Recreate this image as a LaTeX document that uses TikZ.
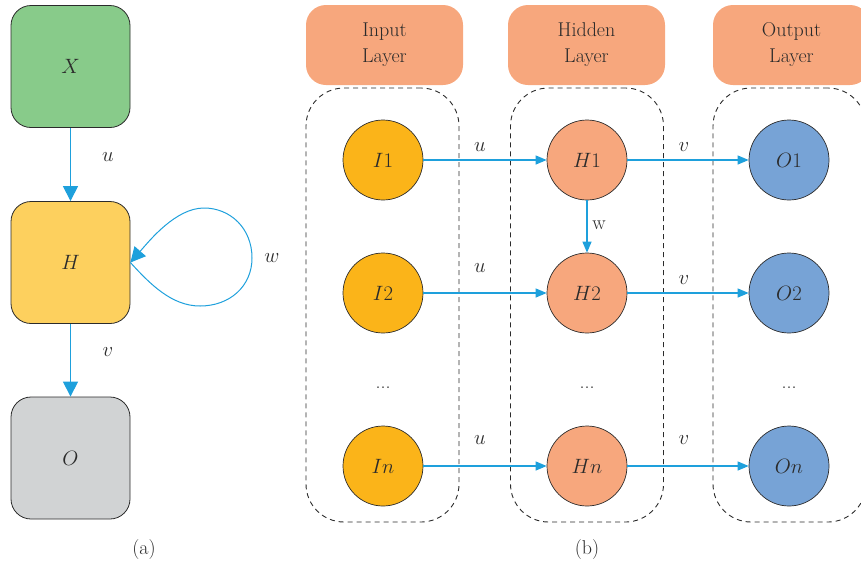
\documentclass[tikz,border=0pt]{standalone}
\usetikzlibrary{arrows.meta}
\definecolor{boxgreen}{HTML}{88CB8A}
\definecolor{boxyellow}{HTML}{FDD05E}
\definecolor{boxgray}{HTML}{D1D3D4}
\definecolor{salmon}{HTML}{F7A77D}
\definecolor{amber}{HTML}{FBB419}
\definecolor{skyblue}{HTML}{77A3D6}
\definecolor{linkblue}{HTML}{1EA0DC}
\definecolor{edge}{HTML}{2B2B2B}
\begin{document}
\begin{tikzpicture}[x=1pt,y=-1pt,
  txt/.style={font=\fontsize{20}{26}\selectfont, text=edge},
  block/.style={draw=edge, line width=0.8pt, rounded corners=20pt,
    minimum width=119pt, minimum height=122pt, inner sep=0pt, txt},
  neuron/.style={circle, draw=edge, line width=0.7pt, minimum size=80pt,
    inner sep=0pt, txt},
  header/.style={fill=salmon, rounded corners=20pt, minimum width=157pt,
    minimum height=80pt, inner sep=0pt, align=center, txt},
  group/.style={draw=edge, dash pattern=on 5pt off 4pt, line width=0.9pt,
    rounded corners=38pt, minimum width=153pt, minimum height=434pt, inner sep=0pt},
  biglink/.style={draw=linkblue, line width=1.1pt, -{Triangle[width=15pt,length=15pt]}},
  link/.style={draw=linkblue, line width=1.1pt, -{Triangle[width=9pt,length=11pt]}},
  lbl/.style={txt, inner sep=0pt}
]
\useasboundingbox (0,0) rectangle (861,566);

% ---------- (a) folded recurrent cell ----------
\node[block, fill=boxgreen]  (X) at (70.5,66.5) {$X$};
\node[block, fill=boxyellow] (H) at (70.5,262.5) {$H$};
\node[block, fill=boxgray]   (O) at (70.5,458) {$O$};

\draw[biglink] (X) -- (H);
\draw[biglink] (H) -- (O);
% self-loop on the hidden cell
\draw[draw=linkblue, line width=1pt, -{Triangle[width=15pt,length=15pt]}]
  (H.east) .. controls +(20,22) and (172,306) .. (200,306)
           .. controls (230,306) and (252,286) .. (252,258)
           .. controls (252,228) and (230,208) .. (204,208)
           .. controls (176,208) and (150,240) .. (H.east);

\node[lbl] (lu) at (108,157) {$u$};
\node[lbl] (lv) at (108,352) {$v$};
\node[lbl] (lw) at (272,258) {$w$};
\node[lbl] (capa) at (144,549) {(a)};

% ---------- (b) unfolded layers ----------
\node[header] (hin)  at (384.5,45) {Input\\Layer};
\node[header] (hhid) at (586.5,45) {Hidden\\Layer};
\node[header] (hout) at (791.5,45) {Output\\Layer};

\node[group] (gin)  at (382.5,305) {};
\node[group] (ghid) at (587,305) {};
\node[group] (gout) at (789.5,305) {};

\node[neuron, fill=amber] (I1) at (383,160) {$I1$};
\node[neuron, fill=amber] (I2) at (383,293) {$I2$};
\node[neuron, fill=amber] (In) at (383,466) {$In$};
\node[neuron, fill=salmon] (H1) at (587,160) {$H1$};
\node[neuron, fill=salmon] (H2) at (587,293) {$H2$};
\node[neuron, fill=salmon] (Hn) at (587,466) {$Hn$};
\node[neuron, fill=skyblue] (O1) at (789,160) {$O1$};
\node[neuron, fill=skyblue] (O2) at (789,293) {$O2$};
\node[neuron, fill=skyblue] (On) at (789,466) {$On$};

\node[lbl] (di) at (383,388) {...};
\node[lbl] (dh) at (587,388) {...};
\node[lbl] (do) at (789,388) {...};

\draw[link] (I1) -- (H1);
\draw[link] (I2) -- (H2);
\draw[link] (In) -- (Hn);
\draw[link] (H1) -- (O1);
\draw[link] (H2) -- (O2);
\draw[link] (Hn) -- (On);
\draw[link] (H1) -- (H2);

\node[lbl] (u1) at (480,147) {$u$};
\node[lbl] (u2) at (480,268) {$u$};
\node[lbl] (un) at (480,440) {$u$};
\node[lbl] (v1) at (684,147) {$v$};
\node[lbl] (v2) at (684,280) {$v$};
\node[lbl] (vn) at (684,440) {$v$};
\node[lbl] (w1) at (599,225) {w};
\node[lbl] (capb) at (587,549) {(b)};
\end{tikzpicture}
\end{document}
